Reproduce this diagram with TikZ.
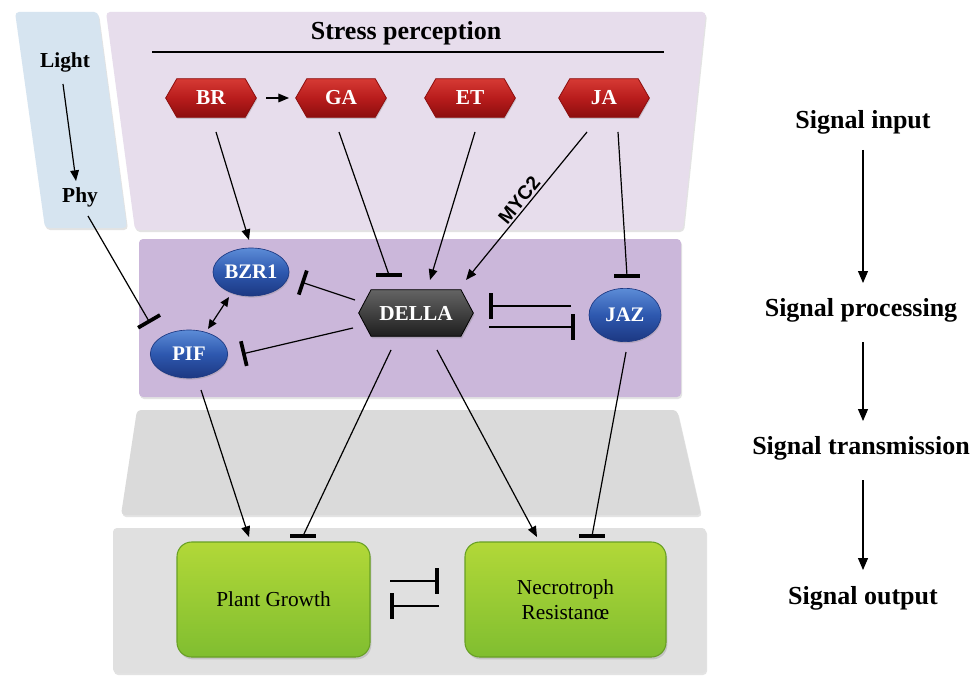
\documentclass[tikz,border=0pt]{standalone}
\usepackage{fontspec}
\setmainfont{Liberation Serif}
\newfontfamily\labsans{Liberation Sans}
\usetikzlibrary{arrows.meta,shapes.symbols,shapes.geometric,shadows,calc}

\definecolor{lightpanel}{RGB}{214,228,240}
\definecolor{stresspanel}{RGB}{231,221,236}
\definecolor{procpanel}{RGB}{203,183,218}
\definecolor{transpanel}{RGB}{218,218,218}
\definecolor{outpanel}{RGB}{224,224,224}
\definecolor{hexhi}{RGB}{214,58,52}
\definecolor{hexmid}{RGB}{184,28,28}
\definecolor{hexlo}{RGB}{140,14,14}
\definecolor{ellhi}{RGB}{92,140,215}
\definecolor{ellmid}{RGB}{46,88,175}
\definecolor{elllo}{RGB}{28,56,130}
\definecolor{dellahi}{RGB}{100,100,100}
\definecolor{dellalo}{RGB}{30,30,30}
\definecolor{boxhi}{RGB}{178,216,56}
\definecolor{boxlo}{RGB}{128,190,48}
\definecolor{boxedge}{RGB}{104,160,36}

\begin{document}
\begin{tikzpicture}[x=0.75pt,y=-0.75pt,
  panel/.style={draw=none, rounded corners=3pt,
    drop shadow={shadow xshift=0.8pt, shadow yshift=-1.5pt, opacity=0.22}},
  headline/.style={font=\bfseries\fontsize{19.5}{22}\selectfont, inner sep=0pt},
  small/.style={font=\bfseries\fontsize{16}{18}\selectfont, inner sep=0pt},
  hormone/.style={signal, signal to=west and east, signal pointer angle=120,
    minimum width=68pt, minimum height=29pt, inner sep=0pt,
    draw=hexlo, line width=0.6pt, top color=hexhi, bottom color=hexlo, middle color=hexmid,
    text=white, font=\bfseries\fontsize{16}{18}\selectfont,
    drop shadow={shadow xshift=0.6pt, shadow yshift=-1.2pt, opacity=0.3}},
  protein/.style={ellipse, inner sep=0pt, draw=elllo, line width=0.5pt,
    top color=ellhi, bottom color=elllo, middle color=ellmid,
    text=white, font=\bfseries\fontsize{15.5}{18}\selectfont,
    drop shadow={shadow xshift=0.6pt, shadow yshift=-1.2pt, opacity=0.3}},
  dellabox/.style={signal, signal to=west and east, signal pointer angle=124,
    minimum width=86pt, minimum height=35pt, inner sep=0pt,
    draw=black, line width=0.6pt, top color=dellahi, bottom color=dellalo,
    text=white, font=\bfseries\fontsize{16}{18}\selectfont,
    drop shadow={shadow xshift=0.8pt, shadow yshift=-1.5pt, opacity=0.35}},
  outcome/.style={rectangle, rounded corners=11pt, inner sep=0pt,
    draw=boxedge, line width=0.8pt, top color=boxhi, bottom color=boxlo,
    align=center, font=\fontsize{16}{19}\selectfont,
    drop shadow={shadow xshift=1pt, shadow yshift=-1.8pt, opacity=0.3}},
  act/.style={line width=0.9pt, -{Triangle[length=8pt,width=6.5pt]}},
  inh/.style={line width=0.9pt, -{Bar[width=19pt,line width=2.8pt]}},
  inhline/.style={line width=0.9pt},
  hbar/.style={line width=2.8pt, line cap=butt},
  both/.style={line width=0.9pt, {Triangle[length=7pt,width=6pt]}-{Triangle[length=7pt,width=6pt]}},
  flow/.style={line width=0.9pt, -{Triangle[length=9pt,width=7.5pt]}}
]
\useasboundingbox (0,0) rectangle (973,677);
\fill[white] (0,0) rectangle (973,677);

% background layers
\fill[lightpanel, panel] (15,12) -- (98,12) -- (127,228) -- (45,228) -- cycle;
\fill[stresspanel, panel] (106,12) -- (706,12) -- (683,230) -- (135,230) -- cycle;
\fill[procpanel, panel] (139,239) rectangle (681,397);
\fill[transpanel, panel] (137,410) -- (677,410) -- (701,515) -- (121,515) -- cycle;
\fill[outpanel, panel] (113,528) rectangle (706,673);

% stress perception header
\node[headline] (stress) at (406,33) {Stress perception};
\coordinate (ruleL) at (152,52);
\coordinate (ruleR) at (664,52);
\draw[line width=1.2pt] (ruleL) -- (ruleR);

% light branch
\node[small] (Light) at (65,62) {Light};
\node[small] (Phy) at (80,197) {Phy};

% hormones
\node[hormone] (BR) at (211,98) {BR};
\node[hormone] (GA) at (341,98) {GA};
\node[hormone] (ET) at (470,98) {ET};
\node[hormone] (JA) at (604,98) {JA};

% signal processing components
\node[protein, minimum width=57pt, minimum height=36pt] (BZR1) at (251,272) {BZR1};
\node[protein, minimum width=58pt, minimum height=36pt] (PIF) at (189,354) {PIF};
\node[protein, minimum width=54pt, minimum height=40pt] (JAZ) at (625,315) {JAZ};
\node[dellabox] (DELLA) at (416,313) {DELLA};

% outputs
\node[outcome, minimum width=144.75pt, minimum height=86.25pt] (PG) at (273.5,599.5) {Plant Growth};
\node[outcome, minimum width=150.75pt, minimum height=86.25pt] (NR) at (565.5,599.5) {Necrotroph\\Resistanœ};

% right-hand stage labels
\node[headline] (In) at (863,122) {Signal input};
\node[headline] (Proc) at (861,310) {Signal processing};
\node[headline] (Trans) at (861,448) {Signal transmission};
\node[headline] (Out) at (863,598) {Signal output};

% connectors
\draw[act] ($(Light)+(-2,22)$) -- ($(Phy)+(-4,-16)$);
\draw[inh] ($(Phy)+(8,19)$) -- ($(PIF)+(-39,-31)$);
\draw[act] ($(BR)+(55,0)$) -- ($(GA)+(-52,0)$);
\draw[act] ($(BR)+(5,34)$) -- ($(BZR1)+(-2,-32)$);
\draw[act] ($(ET)+(5,34)$) -- ($(DELLA)+(14,-33)$);
\draw[act] ($(JA)+(-17,34)$) -- node[pos=0.5, sloped, above, inner sep=1.5pt,
  font=\labsans\bfseries\fontsize{14.5}{16}\selectfont] {MYC2} ($(DELLA)+(50,-33)$);
\draw[inh] ($(DELLA)+(-61,-13)$) -- ($(BZR1)+(50,10)$);
\draw[inh] ($(DELLA)+(-63,15)$) -- ($(PIF)+(53,0)$);
\draw[both] ($(BZR1)+(-22,25)$) -- ($(PIF)+(19,-25)$);
\draw[inh] ($(JAZ)+(-54,-9)$) -- ($(DELLA)+(73,-7)$);
\draw[inh] ($(DELLA)+(73,14)$) -- ($(JAZ)+(-50,12)$);
\draw[act] ($(PIF)+(12,36)$) -- ($(PG)+(-24.5,-62.5)$);
\draw[act] ($(DELLA)+(21,37)$) -- ($(NR)+(-28.5,-62.5)$);
\draw[inh] ($(PG)+(116.5,-18.5)$) -- ($(NR)+(-126.5,-18.5)$);
\draw[inh] ($(NR)+(-126.5,6.5)$) -- ($(PG)+(116.5,6.5)$);

% inhibitions ending in a level bar
\draw[inhline] ($(GA)+(-2,34)$) -- ($(DELLA)+(-27,-38)$) coordinate (gaStop);
\draw[hbar] ($(gaStop)+(-13,0)$) -- ($(gaStop)+(13,0)$);
\draw[inhline] ($(JA)+(14,34)$) -- ($(JAZ)+(2,-39)$) coordinate (jaStop);
\draw[hbar] ($(jaStop)+(-13,0)$) -- ($(jaStop)+(13,0)$);
\draw[inhline] ($(DELLA)+(-25,37)$) -- ($(PG)+(29.5,-63.5)$) coordinate (pgStop);
\draw[hbar] ($(pgStop)+(-13,0)$) -- ($(pgStop)+(13,0)$);
\draw[inhline] ($(JAZ)+(1,37)$) -- ($(NR)+(26.5,-63.5)$) coordinate (nrStop);
\draw[hbar] ($(nrStop)+(-13,0)$) -- ($(nrStop)+(13,0)$);

% stage flow
\draw[flow] ($(In)+(0,28)$) -- ($(Proc)+(2,-27)$);
\draw[flow] ($(Proc)+(2,32)$) -- ($(Trans)+(2,-27)$);
\draw[flow] ($(Trans)+(2,32)$) -- ($(Out)+(0,-28)$);
\end{tikzpicture}
\end{document}
